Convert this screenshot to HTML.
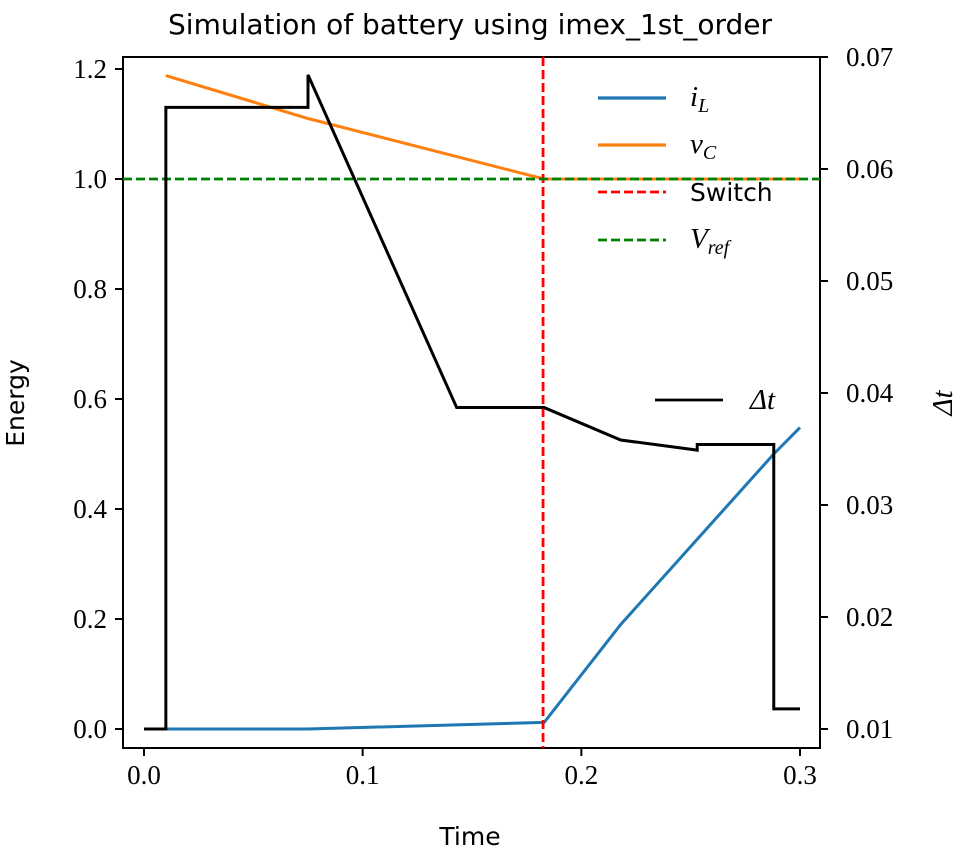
<!DOCTYPE html>
<html><head><meta charset="utf-8"><style>
body{margin:0;background:#fff}
svg text{fill:#000}
.tk{font-family:"Liberation Serif","DejaVu Serif",serif;font-size:27px}
.sn{font-family:"DejaVu Sans","Liberation Sans",sans-serif}
.it{font-family:"Liberation Serif",serif;font-style:italic;font-size:29px}
</style></head><body>
<svg id="c" width="962" height="857" xmlns="http://www.w3.org/2000/svg">
<text class="sn" x="470" y="34" font-size="28" text-anchor="middle">Simulation of battery using imex_1st_order</text>
<rect x="123" y="57" width="697" height="691" fill="none" stroke="#000" stroke-width="2"/>
<g id="g"></g>
<text class="sn" x="470" y="845" font-size="25" text-anchor="middle">Time</text>
<text class="sn" x="0" y="0" font-size="25" text-anchor="middle" transform="translate(24,403) rotate(-90)">Energy</text>
<text class="it" x="0" y="0" text-anchor="middle" transform="translate(952,403) rotate(-90)">Δt</text>
<g>
<line x1="598" y1="98" x2="666" y2="98" stroke="#1f77b4" stroke-width="3.2"/><text class="it" x="690" y="106">i<tspan font-size="20" dy="6">L</tspan></text>
<line x1="598" y1="145" x2="666" y2="145" stroke="#ff7f0e" stroke-width="3.2"/><text class="it" x="690" y="153">v<tspan font-size="20" dy="6">C</tspan></text>
<line x1="598" y1="192" x2="666" y2="192" stroke="#ff0000" stroke-width="2.8" stroke-dasharray="9,4"/><text class="sn" x="690" y="201" font-size="25">Switch</text>
<line x1="598" y1="240" x2="666" y2="240" stroke="#008000" stroke-width="2.8" stroke-dasharray="9,4"/><text class="it" x="690" y="248">V<tspan font-size="20" dy="6">ref</tspan></text>
<line x1="655" y1="400" x2="723" y2="400" stroke="#000" stroke-width="2.8"/><text class="it" x="750" y="409">Δt</text>
</g>
</svg>
<script>
const xTicks=[0.0,0.1,0.2,0.3];
const yTicks=[0.0,0.2,0.4,0.6,0.8,1.0,1.2];
const y2Ticks=[0.01,0.02,0.03,0.04,0.05,0.06,0.07];
const iLT=[0.01,0.075,0.183,0.218,0.253,0.288,0.3];
const iLV=[0,0,0.012,0.19,0.345,0.5,0.548];
const vCT=[0.01,0.075,0.183,0.3];
const vCV=[1.188,1.11,1.0,1.0];
const dtT=[0,0.01,0.01,0.075,0.075,0.143,0.183,0.218,0.253,0.253,0.288,0.288,0.3];
const dtV=[0.01,0.01,0.0655,0.0655,0.0684,0.0387,0.0387,0.0358,0.0349,0.0354,0.0354,0.0118,0.0118];
const switchT=0.1825, vref=1.0;
const X=t=>144+(t/0.3)*656, Y=v=>729-v*550, Y2=v=>729-(v-0.01)*11200;
const g=document.getElementById('g'),NS='http://www.w3.org/2000/svg';
function mk(tag,a){const e=document.createElementNS(NS,tag);for(const k in a)e.setAttribute(k,a[k]);g.appendChild(e);return e;}
xTicks.forEach(t=>{const l=mk('line',{x1:X(t),x2:X(t),y1:748,y2:756,stroke:'#000','stroke-width':2});


const s=mk('text',{x:X(t),y:784,'text-anchor':'middle',class:'tk'});s.textContent=t.toFixed(1);

});
yTicks.forEach(v=>{mk('line',{x1:115,x2:123,y1:Y(v),y2:Y(v),stroke:'#000','stroke-width':2});
const s=mk('text',{x:107,y:Y(v)+9,'text-anchor':'end',class:'tk'});s.textContent=v.toFixed(1);

});
y2Ticks.forEach(v=>{mk('line',{x1:820,x2:828,y1:Y2(v),y2:Y2(v),stroke:'#000','stroke-width':2});
const s=mk('text',{x:846,y:Y2(v)+9,class:'tk'});s.textContent=v.toFixed(2);

});
function line(ts,vs,f,col,name){const p=mk('polyline',{points:ts.map((t,i)=>X(t)+','+f(vs[i])).join(' '),fill:'none',stroke:col,'stroke-width':3});

}
line(iLT,iLV,Y,'#1f77b4','il-line');
line(vCT,vCV,Y,'#ff7f0e','vc-line');
const sw=mk('line',{x1:X(switchT),x2:X(switchT),y1:57,y2:748,stroke:'#ff0000','stroke-width':2.8,'stroke-dasharray':'9,4'});


const vr=mk('line',{x1:123,x2:820,y1:Y(vref),y2:Y(vref),stroke:'#008000','stroke-width':2.8,'stroke-dasharray':'9,4'});


line(dtT,dtV,Y2,'#000','dt-line');
</script>
</body></html>
